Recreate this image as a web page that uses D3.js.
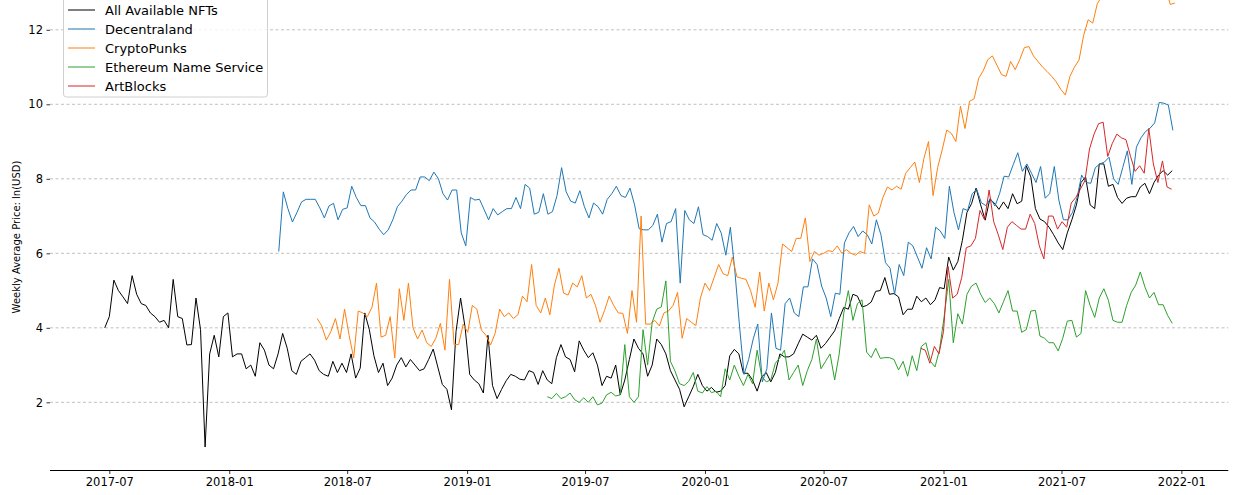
<!DOCTYPE html>
<html>
<head>
<meta charset="utf-8">
<script src="https://cdn.jsdelivr.net/npm/d3@7"></script>
<style>
  body { margin: 0; background: #fff; }
  text { font-family: "DejaVu Sans", sans-serif; }
</style>
</head>
<body>
<div class="chart"></div>
<script>
// Serie: nome, data di inizio (passo settimanale) e valori ln(USD)
const seriesNames = ['All Available NFTs', 'Decentraland', 'CryptoPunks', 'Ethereum Name Service', 'ArtBlocks'];

const allNftsStart = '2017-06-24';
const allNftsValues = [
  4.0, 4.3, 5.28, 5.0, 4.83, 4.65, 5.4, 4.9, 4.65, 4.6,
  4.4, 4.3, 4.15, 4.2, 4.0, 5.3, 4.3, 4.25, 3.54, 3.55,
  4.8, 3.95, 0.8, 3.3, 3.8, 3.22, 4.3, 4.4, 3.22, 3.3,
  3.3, 2.9, 3.0, 2.7, 3.6, 3.4, 3.0, 2.9, 3.3, 3.85,
  3.45, 2.85, 2.75, 3.1, 3.2, 3.3, 3.13, 2.85, 2.75, 2.7,
  3.1, 2.8, 3.05, 2.8, 3.3, 2.65, 2.92, 4.4, 3.95, 3.25,
  2.8, 3.05, 2.45, 2.65, 3.0, 3.2, 2.95, 3.15, 3.0, 2.85,
  2.9, 3.15, 3.43, 2.95, 2.48, 2.35, 1.8, 3.9, 4.8, 4.0,
  2.75, 2.6, 2.5, 2.25, 3.8, 2.45, 2.1, 2.35, 2.58, 2.75,
  2.7, 2.62, 2.6, 2.85, 2.8, 2.48, 2.85, 2.6, 2.5, 3.2,
  3.55, 3.22, 3.15, 2.82, 3.65, 3.4, 3.2, 3.33, 3.0, 2.45,
  2.7, 2.65, 3.0, 2.2, 2.6, 3.15, 3.7, 3.45, 3.3, 2.7,
  3.0, 3.7, 3.55, 3.3, 2.85, 2.6, 2.35, 1.88, 2.15, 2.42,
  2.75, 2.45, 2.3, 2.4, 2.27, 2.3, 2.45, 3.25, 3.42, 3.3,
  2.78, 2.78, 2.6, 2.3, 2.68, 2.8, 2.55, 2.8, 3.3, 3.22,
  3.22, 3.3, 3.57, 3.83, 3.75, 3.67, 3.8, 3.45, 3.58, 3.75,
  3.92, 4.25, 4.55, 4.5, 4.9, 4.85, 4.56, 4.6, 4.69, 4.98,
  5.0, 5.35, 4.9, 4.92, 4.83, 4.35, 4.5, 4.5, 4.85, 4.7,
  4.8, 4.62, 4.75, 5.08, 5.05, 5.9, 5.55, 5.78, 6.35, 7.1,
  7.33, 7.75, 7.3, 6.89, 7.45, 7.35, 7.18, 7.38, 7.2, 7.6,
  7.33, 7.4, 8.35, 8.05, 7.2, 6.92, 6.85, 6.7, 6.5, 6.28,
  6.1, 6.55, 6.9, 7.3, 7.9, 8.05, 7.3, 7.2, 8.4, 8.4,
  7.8, 7.85, 7.5, 7.34, 7.48, 7.52, 7.52, 7.78, 7.88, 7.6,
  7.9, 8.1, 8.22, 8.1, 8.22
];

const decentralandStart = '2018-03-18';
const decentralandValues = [
  6.05, 7.65, 7.2, 6.84, 7.1, 7.38, 7.45, 7.45, 7.45, 7.22,
  6.95, 7.27, 7.34, 6.9, 7.18, 7.22, 7.8, 7.5, 7.28, 7.28,
  6.95, 6.84, 6.65, 6.5, 6.63, 6.9, 7.25, 7.4, 7.58, 7.7,
  7.7, 8.05, 8.05, 7.95, 8.18, 8.0, 7.6, 7.43, 7.7, 7.7,
  6.55, 6.2, 7.5, 7.43, 7.45, 7.18, 6.9, 7.2, 7.03, 7.12,
  7.2, 7.2, 7.5, 7.2, 7.85, 7.75, 7.05, 7.1, 7.6, 7.05,
  7.12, 7.55, 8.3, 7.65, 7.4, 7.35, 7.68, 7.25, 6.95, 7.35,
  7.25, 7.05, 7.45, 7.6, 7.8, 7.55, 7.5, 7.75, 7.3, 6.66,
  6.63, 6.63, 6.75, 7.05, 6.3, 6.8, 6.85, 7.2, 5.2, 7.15,
  6.9, 6.8, 7.25, 6.5, 6.45, 6.35, 6.8, 6.54, 5.95, 6.7,
  5.5, 4.05, 2.75, 3.15, 3.7, 4.1, 2.55, 2.9, 4.4, 3.45,
  3.4, 4.65, 4.8, 4.4, 4.3, 5.1, 5.1, 5.85, 5.7, 5.12,
  4.8, 4.3, 4.93, 4.9, 6.28, 6.55, 6.72, 6.45, 6.6, 6.5,
  6.25, 6.9, 6.5, 5.75, 5.6, 4.9, 5.7, 5.4, 6.3, 6.2,
  5.9, 5.6, 6.15, 5.85, 6.7, 6.6, 6.4, 7.8, 7.1, 6.63,
  7.2, 7.15, 7.6, 7.72, 7.36, 7.28, 7.47, 7.27, 7.6, 8.07,
  8.05, 8.38, 8.7, 8.2, 8.4, 8.15, 7.9, 8.33, 7.48, 7.6,
  8.33, 7.43, 6.9, 6.9, 7.1, 7.5, 8.1, 7.9, 7.88, 8.3,
  8.4, 8.45, 8.58, 8.0, 7.85, 8.3, 8.75, 7.85, 8.85, 9.1,
  9.27, 9.36, 9.5, 10.05, 10.03, 9.98, 9.3
];

const cryptoPunksStart = '2018-05-16';
const cryptoPunksValues = [
  4.25, 4.05, 3.67, 3.9, 4.25, 3.7, 4.5, 3.8, 3.19, 4.45,
  4.4, 4.3, 4.55, 5.2, 3.75, 3.8, 4.3, 3.19, 5.05, 4.2,
  5.2, 4.0, 3.7, 3.94, 3.6, 3.5, 3.72, 4.12, 3.4, 5.3,
  3.55, 3.55, 4.1, 3.88, 4.6, 4.5, 3.94, 3.8, 3.54, 3.85,
  4.5, 4.3, 4.4, 4.25, 4.35, 4.85, 4.7, 5.7, 4.6, 4.4,
  4.8, 4.35, 5.15, 5.6, 4.93, 4.88, 5.2, 5.1, 5.4, 4.8,
  4.9, 4.6, 4.15, 4.47, 4.85, 4.6, 4.4, 4.39, 3.85, 5.0,
  4.15, 7.0, 4.1, 4.1, 4.2, 4.05, 4.4, 4.45, 4.6, 4.95,
  3.72, 4.25, 4.15, 4.06, 4.8, 5.2, 5.0, 5.35, 5.7, 5.45,
  5.4, 5.9, 5.37, 5.33, 5.3, 5.0, 4.55, 5.5, 4.45, 5.2,
  4.75, 5.2, 6.25, 6.15, 6.05, 6.4, 6.4, 6.95, 5.78, 6.05,
  5.95, 6.0, 6.07, 6.05, 6.2, 6.0, 6.1, 6.0, 5.95, 6.05,
  6.0, 7.3, 7.0, 7.08, 7.5, 7.78, 7.7, 7.8, 7.72, 8.15,
  8.3, 8.45, 7.9, 8.55, 9.0, 7.55, 8.3, 8.78, 9.31, 9.22,
  9.0, 9.95, 9.35, 10.08, 10.15, 10.7, 10.9, 11.2, 11.3, 11.05,
  10.8, 10.75, 11.15, 10.93, 11.2, 11.52, 11.55, 11.3, 11.15, 11.0,
  10.88, 10.75, 10.6, 10.4, 10.25, 10.75, 11.0, 11.19, 11.85, 12.27,
  12.18, 12.7, 12.9, 12.85, 13.1, 13.2, 12.85, 13.1, 13.3, 13.4,
  13.3, 13.4, 13.5, 13.4, 13.3, 13.3, 13.1, 12.68, 12.72
];

const ensStart = '2019-05-04';
const ensValues = [
  2.15, 2.1, 2.24, 2.1, 2.15, 2.25, 2.07, 2.0, 2.12, 2.0,
  2.15, 1.93, 1.98, 2.2, 2.27, 2.17, 2.2, 3.55, 2.15, 2.0,
  2.15, 3.95, 3.0, 4.15, 4.5, 4.56, 5.26, 3.1, 2.84, 2.5,
  2.45, 2.56, 2.8, 2.3, 2.25, 2.42, 2.26, 2.3, 2.15, 2.9,
  2.6, 3.0, 2.7, 2.45, 2.75, 2.5, 3.4, 2.7, 2.55, 2.6,
  3.05, 3.2, 3.4, 2.6, 2.8, 3.0, 2.45, 2.85, 3.15, 3.7,
  2.9, 3.1, 3.3, 2.6, 3.3, 4.4, 5.0, 4.2, 4.65, 4.75,
  3.35, 3.2, 3.45, 3.18, 3.2, 3.2, 3.15, 2.87, 3.1, 2.7,
  3.25, 2.85, 3.5, 3.6, 3.1, 2.95, 3.42, 4.3, 5.3, 3.6,
  4.38, 4.1, 4.9, 5.12, 5.2, 4.9, 4.68, 4.8, 4.65, 4.4,
  4.7, 5.0, 4.45, 4.45, 3.88, 3.95, 4.45, 4.47, 3.78, 3.72,
  3.6, 3.6, 3.38, 3.72, 4.18, 4.2, 3.75, 3.85, 5.0, 4.6,
  4.28, 4.8, 5.05, 4.74, 4.2, 4.15, 4.15, 4.6, 4.95, 5.15,
  5.5, 5.1, 4.8, 4.95, 4.62, 4.62, 4.33, 4.12
];

const artBlocksStart = '2020-11-27';
const artBlocksValues = [
  3.45, 3.4, 3.05, 3.5, 3.3, 3.9, 5.65, 4.8, 4.9, 5.35,
  6.15, 6.2, 6.4, 7.15, 6.9, 7.7, 6.85, 6.5, 6.1, 6.7,
  6.85, 6.75, 6.65, 6.65, 7.05, 6.8, 6.2, 5.85, 7.0, 7.0,
  6.65, 6.85, 6.7, 7.35, 7.5, 7.72, 7.95, 8.8, 9.2, 9.48,
  9.52, 8.6, 8.95, 9.2, 9.1, 9.05, 8.6, 8.2, 8.35, 8.15,
  9.35, 8.4, 7.9, 8.48, 7.78, 7.72
];

const xTickLabels = ['2017-07', '2018-01', '2018-07', '2019-01', '2019-07', '2020-01', '2020-07', '2021-01', '2021-07', '2022-01'];
const yTicks = [2, 4, 6, 8, 10, 12];

// Dimensioni
const width = 1233;
const height = 495;
const colors = ['#000000', '#1f77b4', '#ff7f0e', '#2ca02c', '#d62728'];

const parseDay = d3.utcParse('%Y-%m-%d');
const parseMonth = d3.utcParse('%Y-%m');

function weekly(start, values) {
  const t0 = parseDay(start);
  return values.map((v, i) => ({ date: d3.utcDay.offset(t0, 7 * i), value: v }));
}

const series = [
  weekly(allNftsStart, allNftsValues),
  weekly(decentralandStart, decentralandValues),
  weekly(cryptoPunksStart, cryptoPunksValues),
  weekly(ensStart, ensValues),
  weekly(artBlocksStart, artBlocksValues)
];

const svg = d3.select('.chart')
  .append('svg')
  .attr('width', width)
  .attr('height', height);

// Scale
const x = d3.scaleUtc()
  .domain([parseDay('2017-04-01'), parseDay('2022-03-14')])
  .range([50, 1228.3]);

const y = d3.scaleLinear()
  .domain([0.17, 12.8])
  .range([470.5, 0]);

// Griglia orizzontale
svg.append('g')
  .selectAll('line')
  .data(yTicks)
  .join('line')
  .attr('x1', x.range()[0])
  .attr('x2', x.range()[1])
  .attr('y1', d => y(d))
  .attr('y2', d => y(d))
  .attr('stroke', '#b0b0b0')
  .attr('stroke-width', 0.8)
  .attr('stroke-dasharray', '3,2.5');

// Asse y (senza linea)
const yAxis = svg.append('g')
  .attr('transform', `translate(${x.range()[0]},0)`)
  .call(d3.axisLeft(y).tickValues(yTicks).tickSize(3.5).tickPadding(3.5).tickFormat(d3.format('d')));
yAxis.select('.domain').remove();
yAxis.selectAll('text').attr('font-size', 11.5).attr('fill', '#000').style('font-family', '"DejaVu Sans", sans-serif');
yAxis.selectAll('line').attr('stroke', '#000').attr('stroke-width', 0.8);

// Asse x
const xAxis = svg.append('g')
  .attr('transform', `translate(0,${y.range()[0]})`)
  .call(d3.axisBottom(x)
    .tickValues(xTickLabels.map(parseMonth))
    .tickSize(3.5)
    .tickPadding(3.5)
    .tickFormat(d3.utcFormat('%Y-%m')));
xAxis.select('.domain').attr('stroke', '#000').attr('stroke-width', 1).attr('d', `M${x.range()[0]},0H${x.range()[1]}`);
xAxis.selectAll('text').attr('font-size', 11.5).attr('fill', '#000').style('font-family', '"DejaVu Sans", sans-serif');
xAxis.selectAll('line').attr('stroke', '#000').attr('stroke-width', 0.8);

// Etichetta asse y
svg.append('text')
  .attr('transform', 'translate(20,237) rotate(-90)')
  .attr('text-anchor', 'middle')
  .attr('font-size', 10)
  .text('Weekly Average Price: ln(USD)');

// Linee
svg.append('clipPath')
  .attr('id', 'plot-clip')
  .append('rect')
  .attr('x', x.range()[0])
  .attr('y', -50)
  .attr('width', x.range()[1] - x.range()[0])
  .attr('height', y.range()[0] + 50);

const line = d3.line()
  .x(d => x(d.date))
  .y(d => y(d.value));

svg.append('g')
  .attr('clip-path', 'url(#plot-clip)')
  .selectAll('path')
  .data(series)
  .join('path')
  .attr('fill', 'none')
  .attr('stroke', (d, i) => colors[i])
  .attr('stroke-width', 1)
  .attr('stroke-linejoin', 'round')
  .attr('d', line);

// Legenda
const legend = svg.append('g');
legend.append('rect')
  .attr('x', 63.5)
  .attr('y', -6)
  .attr('width', 204)
  .attr('height', 103)
  .attr('rx', 3)
  .attr('fill', '#fff')
  .attr('fill-opacity', 0.8)
  .attr('stroke', '#d0d0d0')
  .attr('stroke-width', 1);

const items = legend.selectAll('g.item')
  .data(seriesNames)
  .join('g')
  .attr('class', 'item')
  .attr('transform', (d, i) => `translate(0,${10 + i * 19})`);

items.append('line')
  .attr('x1', 68)
  .attr('x2', 95)
  .attr('stroke', (d, i) => colors[i])
  .attr('stroke-width', 1);

items.append('text')
  .attr('x', 105)
  .attr('dy', '0.36em')
  .attr('font-size', 13)
  .text(d => d);
</script>
</body>
</html>
